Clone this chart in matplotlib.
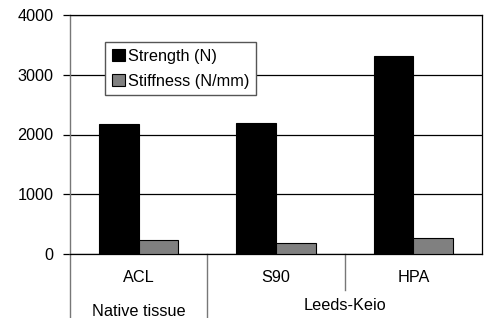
import numpy as np
import matplotlib.pyplot as plt

plt.rcParams['font.family'] = ['Liberation Sans', 'DejaVu Sans']

# Данные
categories = ['ACL', 'S90', 'HPA']
groups = ['Native tissue', 'Leeds-Keio']
strength = [2170, 2190, 3310]
stiffness = [240, 180, 265]

FS = 11.7

fig = plt.figure(figsize=(4.85, 3.18), dpi=100)
ax = fig.add_axes([70/485, 1-254/318, 412/485, 239/318])

x = np.arange(len(categories))
w = 0.29
ax.bar(x - w/2, strength, w, color='black', edgecolor='black', linewidth=0.8,
       label='Strength (N)', zorder=3)
ax.bar(x + w/2, stiffness, w, color='#808080', edgecolor='black', linewidth=0.8,
       label='Stiffness (N/mm)', zorder=3)

ax.set_xlim(-0.5, 2.5)
ax.set_ylim(0, 4000)
ax.set_yticks([0, 1000, 2000, 3000, 4000])
ax.yaxis.grid(True, color='black', linewidth=0.9)
ax.set_axisbelow(True)
ax.tick_params(axis='y', length=5, width=0.9, labelsize=FS, pad=7)
ax.set_xticks([])
for s in ['top', 'right', 'bottom']:
    ax.spines[s].set_color('black')
    ax.spines[s].set_linewidth(0.9)
ax.spines['left'].set_color('#777777')
ax.spines['left'].set_linewidth(1.0)

# Многоуровневая ось категорий
tr = ax.get_xaxis_transform()
for xd in [-0.5, 0.5]:
    ax.plot([xd, xd], [0, -0.27], color='#777777', lw=1.0, transform=tr, clip_on=False)
ax.plot([1.5, 1.5], [0, -0.15], color='#777777', lw=1.0, transform=tr, clip_on=False)
for xi, c in zip(x, categories):
    ax.text(xi, -0.1, c, ha='center', va='center', fontsize=FS, transform=tr)
ax.text(0, -0.24, groups[0], ha='center', va='center', fontsize=FS, transform=tr)
ax.text(1.5, -0.215, groups[1], ha='center', va='center', fontsize=FS, transform=tr)

leg = ax.legend(loc='upper left', bbox_to_anchor=(0.085, 0.887), fontsize=FS,
                frameon=True, fancybox=False, framealpha=1, edgecolor='#555555',
                handlelength=0.8, handleheight=0.8, handletextpad=0.2,
                borderpad=0.42, labelspacing=0.6, borderaxespad=0)
leg.get_frame().set_linewidth(1.0)

fig.savefig('out.png', dpi=100)
